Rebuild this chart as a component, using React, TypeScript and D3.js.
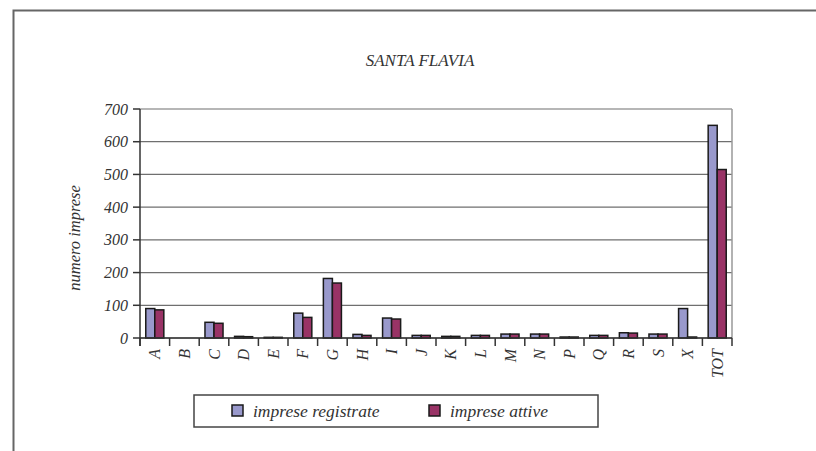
import React from 'react';
import * as d3 from 'd3';

const categories = ['A', 'B', 'C', 'D', 'E', 'F', 'G', 'H', 'I', 'J', 'K', 'L', 'M', 'N', 'P', 'Q', 'R', 'S', 'X', 'TOT'];
const registrate = [90, 0, 48, 5, 2, 76, 182, 11, 61, 8, 5, 8, 12, 12, 3, 8, 16, 12, 90, 650];
const attive = [86, 0, 45, 4, 2, 63, 168, 8, 58, 8, 5, 8, 12, 12, 3, 8, 15, 12, 3, 515];
const yTicks = [0, 100, 200, 300, 400, 500, 600, 700];
const seriesLabels = ['imprese registrate', 'imprese attive'];
const colors = ['#9999CC', '#993366'];

const W = 816;
const H = 451;
const left = 140;
const right = 732;
const top = 109;
const bottom = 338;
const font = "'Liberation Serif', 'DejaVu Serif', 'Times New Roman', serif";

export default function App() {
  const x = d3.scaleBand<string>().domain(categories).range([left, right]).paddingInner(0.39).paddingOuter(0.195);
  const x1 = d3.scaleBand<number>().domain([0, 1]).range([0, x.bandwidth()]);
  const y = d3.scaleLinear().domain([0, 700]).range([bottom, top]);
  const step = (right - left) / categories.length;
  const series = [registrate, attive];

  const textStyle = { fontFamily: font, fontStyle: 'italic' as const };

  return (
    <svg width={W} height={H} style={{ position: 'absolute', left: 0, top: 0, background: '#fff' }}>
      {/* outer frame */}
      <path d={`M13.5,${H} V10.5 H${W}`} fill="none" stroke="#666" strokeWidth={2} />

      <text x={420} y={66} textAnchor="middle" style={textStyle} fontSize={17} fill="#333">
        SANTA FLAVIA
      </text>

      {/* gridlines */}
      {yTicks.map(t => (
        <line key={t} x1={left} x2={right} y1={y(t)} y2={y(t)} stroke="#6f6f6f" strokeWidth={1.2} />
      ))}
      <line x1={right} x2={right} y1={top} y2={bottom} stroke="#999" strokeWidth={1.5} />

      {/* y axis */}
      <line x1={left} x2={left} y1={top} y2={bottom + 8} stroke="#333" strokeWidth={1.5} />
      {yTicks.map(t => (
        <g key={'t' + t}>
          <line x1={left - 7} x2={left} y1={y(t)} y2={y(t)} stroke="#333" strokeWidth={1.5} />
          <text x={128} y={y(t)} dy="0.35em" textAnchor="end" style={textStyle} fontSize={16} fill="#333">
            {t}
          </text>
        </g>
      ))}
      <text transform={`translate(80,238) rotate(-90)`} textAnchor="middle" style={textStyle} fontSize={16.5} fill="#333">
        numero imprese
      </text>

      {/* bars */}
      {categories.map((c, i) => (
        <g key={c} transform={`translate(${x(c)},0)`}>
          {series.map((s, k) => (
            <rect
              key={k}
              x={x1(k)}
              y={y(s[i])}
              width={x1.bandwidth()}
              height={Math.max(bottom - y(s[i]), 0)}
              fill={colors[k]}
              stroke="#1a1a1a"
              strokeWidth={1.5}
            />
          ))}
        </g>
      ))}

      {/* x axis */}
      <line x1={left} x2={right} y1={bottom} y2={bottom} stroke="#333" strokeWidth={1.5} />
      {d3.range(categories.length + 1).map(i => (
        <line key={'xt' + i} x1={left + i * step} x2={left + i * step} y1={bottom} y2={bottom + 8} stroke="#333" strokeWidth={1.5} />
      ))}
      {categories.map(c => (
        <text
          key={'xl' + c}
          transform={`translate(${(x(c) ?? 0) + x.bandwidth() / 2},349) rotate(-90)`}
          dy="0.35em"
          textAnchor="end"
          style={textStyle}
          fontSize={16}
          fill="#333"
        >
          {c}
        </text>
      ))}

      {/* legend */}
      <rect x={194} y={395} width={404} height={32} fill="#fff" stroke="#444" strokeWidth={1.5} />
      {seriesLabels.map((l, k) => (
        <g key={l} transform={`translate(${k === 0 ? 232 : 429},0)`}>
          <rect x={0} y={405} width={11} height={11} fill={colors[k]} stroke="#1a1a1a" strokeWidth={1.5} />
          <text x={21} y={417} style={textStyle} fontSize={17.5} fill="#333">
            {l}
          </text>
        </g>
      ))}
    </svg>
  );
}
